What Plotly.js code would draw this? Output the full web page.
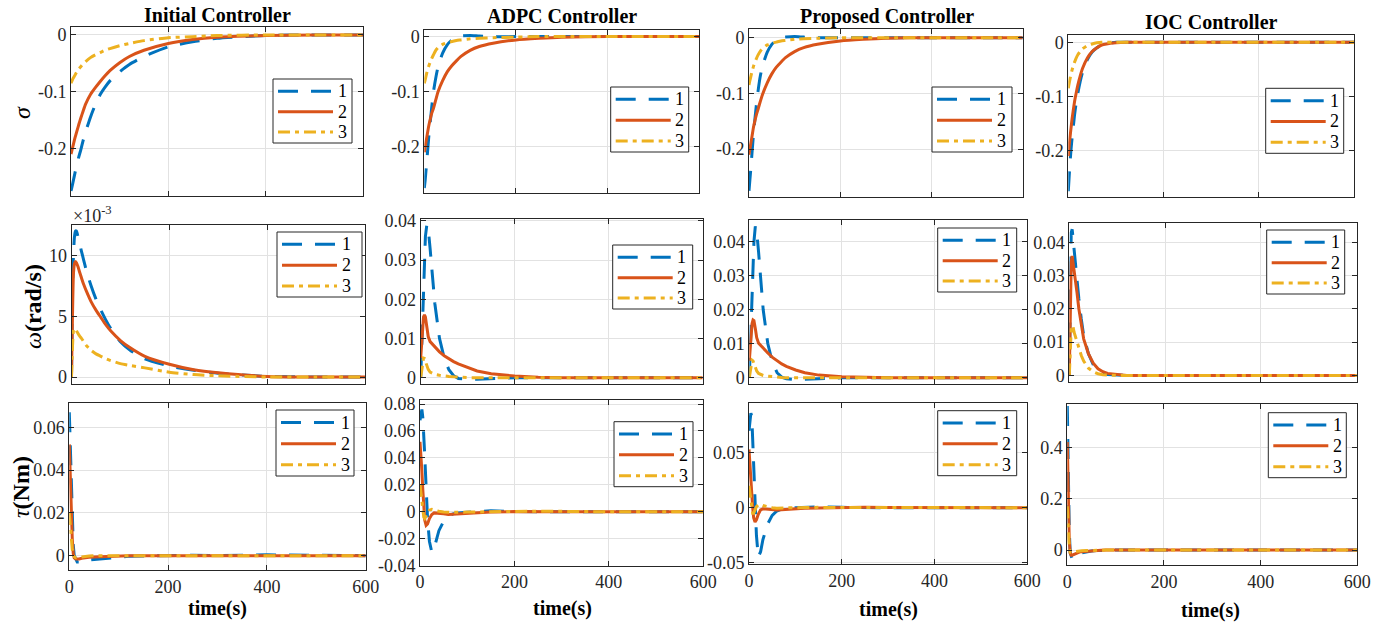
<!DOCTYPE html>
<html><head><meta charset="utf-8">
<script src="https://cdn.plot.ly/plotly-3.0.1.min.js"></script>
<style>html,body{margin:0;padding:0;background:#fff}#chart{width:1388px;height:624px}</style>
</head><body><div id="chart"></div>
<script>
// time samples (s)
const T = [0,2,4,6,8,10,13,16,20,25,30,40,50,60,70,80,100,120,150,200,250,300,400,500,600];

// sigma
const sigInit1 = [-0.275,-0.268,-0.26,-0.252,-0.244,-0.236,-0.226,-0.215,-0.203,-0.186,-0.171,-0.145,-0.123,-0.105,-0.092,-0.081,-0.065,-0.052,-0.038,-0.021,-0.012,-0.006,-0.001,0,0];
const sigInit2 = [-0.21,-0.203,-0.196,-0.189,-0.182,-0.176,-0.167,-0.158,-0.147,-0.134,-0.122,-0.105,-0.093,-0.082,-0.072,-0.063,-0.049,-0.038,-0.027,-0.015,-0.008,-0.004,-0.001,0,0];
const sigInit3 = [-0.085,-0.081,-0.077,-0.074,-0.071,-0.068,-0.064,-0.06,-0.056,-0.051,-0.047,-0.04,-0.035,-0.031,-0.027,-0.024,-0.019,-0.015,-0.01,-0.005,-0.003,-0.001,0,0,0];
const sigADPC1 = [-0.275,-0.26,-0.24,-0.22,-0.2,-0.18,-0.155,-0.13,-0.1,-0.075,-0.055,-0.03,-0.015,-0.006,-0.001,0.001,0.002,0.001,0,0,0,0,0,0,0];
const sigADPC2 = [-0.21,-0.2,-0.19,-0.18,-0.17,-0.161,-0.15,-0.14,-0.13,-0.115,-0.1,-0.08,-0.064,-0.053,-0.044,-0.036,-0.025,-0.018,-0.012,-0.006,-0.003,-0.001,0,0,0];
const sigADPC3 = [-0.085,-0.078,-0.071,-0.064,-0.058,-0.053,-0.046,-0.04,-0.033,-0.025,-0.02,-0.014,-0.011,-0.009,-0.007,-0.006,-0.004,-0.003,-0.002,-0.001,0,0,0,0,0];
const sigProp1 = [-0.275,-0.255,-0.235,-0.213,-0.192,-0.172,-0.146,-0.122,-0.095,-0.068,-0.05,-0.026,-0.012,-0.004,0,0.001,0.002,0.001,0,0,0,0,0,0,0];
const sigProp2 = [-0.21,-0.2,-0.19,-0.18,-0.17,-0.16,-0.149,-0.139,-0.128,-0.114,-0.101,-0.081,-0.065,-0.053,-0.044,-0.036,-0.025,-0.018,-0.012,-0.006,-0.003,-0.001,0,0,0];
const sigProp3 = [-0.085,-0.077,-0.07,-0.063,-0.057,-0.051,-0.044,-0.038,-0.031,-0.024,-0.019,-0.013,-0.01,-0.008,-0.006,-0.005,-0.003,-0.002,-0.001,0,0,0,0,0,0];
const sigIOC1 = [-0.275,-0.245,-0.218,-0.195,-0.176,-0.16,-0.135,-0.115,-0.094,-0.072,-0.055,-0.032,-0.018,-0.01,-0.005,-0.002,0,0,0,0,0,0,0,0,0];
const sigIOC2 = [-0.21,-0.19,-0.172,-0.156,-0.141,-0.128,-0.11,-0.096,-0.079,-0.062,-0.048,-0.029,-0.017,-0.01,-0.005,-0.003,-0.001,0,0,0,0,0,0,0,0];
const sigIOC3 = [-0.085,-0.075,-0.066,-0.058,-0.051,-0.045,-0.037,-0.03,-0.023,-0.017,-0.012,-0.006,-0.003,-0.001,0,0,0,0,0,0,0,0,0,0,0];

// omega (Initial controller in units of 1e-3 rad/s, others in rad/s)
const omgInit1 = [0,7,10,11.5,12,12,11.6,11.1,10.4,9.6,8.8,7.5,6.4,5.5,4.7,4.0,2.9,2.2,1.5,0.9,0.55,0.3,0.05,0,0];
const omgInit2 = [0,5,8.5,9.3,9.5,9.4,9.1,8.7,8.2,7.6,7.1,6.2,5.5,4.9,4.3,3.8,3.0,2.4,1.7,1.05,0.6,0.35,0.05,0,0];
const omgInit3 = [0,2.5,3.8,4.0,3.95,3.8,3.6,3.4,3.2,2.9,2.6,2.2,1.9,1.7,1.5,1.35,1.1,0.95,0.75,0.4,0.2,0.1,0,0,0];
const omgADPC1 = [0,0.008,0.016,0.024,0.031,0.036,0.039,0.038,0.033,0.026,0.019,0.01,0.005,0.002,0.0005,-0.0002,-0.0004,-0.0004,-0.0002,0,0,0,0,0,0];
const omgADPC2 = [0.005,0.009,0.013,0.0155,0.016,0.0155,0.013,0.0105,0.0092,0.0085,0.0078,0.0066,0.0056,0.0048,0.0041,0.0035,0.0025,0.0017,0.001,0.0004,0.0001,0,0,0,0];
const omgADPC3 = [0,0.002,0.004,0.005,0.0049,0.0042,0.003,0.0021,0.0014,0.001,0.0008,0.0006,0.0004,0.0003,0.0002,0.0001,0,0,0,0,0,0,0,0,0];
const omgProp1 = [0,0.008,0.017,0.026,0.034,0.04,0.0445,0.043,0.037,0.028,0.02,0.01,0.0045,0.0015,0.0002,-0.0003,-0.0005,-0.0004,-0.0002,0,0,0,0,0,0];
const omgProp2 = [0.005,0.009,0.013,0.016,0.017,0.0168,0.0145,0.0118,0.0102,0.0094,0.0087,0.0073,0.006,0.005,0.0041,0.0034,0.0023,0.0015,0.0008,0.0003,0.0001,0,0,0,0];
const omgProp3 = [0,0.002,0.0042,0.0052,0.005,0.0043,0.003,0.002,0.0013,0.0009,0.0007,0.0005,0.0003,0.0002,0.0001,0,0,0,0,0,0,0,0,0,0];
const omgIOC1 = [0,0.03,0.043,0.044,0.041,0.037,0.033,0.028,0.023,0.017,0.012,0.0065,0.0032,0.0015,0.0007,0.0003,0.0001,0,0,0,0,0,0,0,0];
const omgIOC2 = [0,0.022,0.034,0.036,0.034,0.031,0.028,0.025,0.02,0.015,0.011,0.0065,0.0037,0.002,0.0011,0.0006,0.0002,0,0,0,0,0,0,0,0];
const omgIOC3 = [0,0.009,0.014,0.015,0.0145,0.013,0.0115,0.0098,0.008,0.006,0.0043,0.0022,0.0011,0.0005,0.0002,0.0001,0,0,0,0,0,0,0,0,0];

// tau (Nm)
const tauInit1 = [0.067,0.05,0.03,0.015,0.005,0,-0.002,-0.003,-0.003,-0.0025,-0.002,-0.002,-0.0018,-0.0015,-0.0012,-0.001,-0.0006,-0.0003,-0.0002,0,0.0002,0,0.0004,0.0002,0];
const tauInit2 = [0.052,0.036,0.02,0.008,0.001,-0.001,-0.0015,-0.0016,-0.0015,-0.0012,-0.001,-0.0008,-0.0006,-0.0005,-0.0004,-0.0003,-0.0001,0,0,0,0.0001,0,0.0003,0.0001,0];
const tauInit3 = [0.02,0.013,0.007,0.003,0.0005,-0.0005,-0.001,-0.001,-0.0008,-0.0006,-0.0004,-0.0002,0,0,0,0.0001,0.0002,0.0001,0,0,0.0002,0,0.0003,0.0001,0];
const tauADPC1 = [0.068,0.074,0.076,0.07,0.058,0.042,0.018,-0.005,-0.022,-0.03,-0.027,-0.014,-0.007,-0.003,-0.0015,-0.0008,-0.0003,0.0003,0.0008,0.0002,0,0,0,0,0];
const tauADPC2 = [0.052,0.043,0.03,0.016,0.004,-0.006,-0.01,-0.009,-0.005,-0.002,-0.0008,-0.001,-0.0015,-0.002,-0.0018,-0.0015,-0.001,-0.0006,-0.0002,0.0002,0.0003,0,0,0,0];
const tauADPC3 = [0.02,0.013,0.005,-0.001,-0.004,-0.005,-0.003,-0.0005,0.0012,0.0018,0.0012,0.0004,-0.0002,-0.0004,-0.0004,-0.0003,-0.0002,0,0.0003,0.0003,0.0005,0.0002,0,0,0];
const tauProp1 = [0.07,0.08,0.086,0.083,0.06,0.035,0,-0.025,-0.045,-0.04,-0.029,-0.015,-0.007,-0.003,-0.0012,-0.0005,0,0.0005,0.0008,0.0003,0,0,0,0,0];
const tauProp2 = [0.053,0.042,0.028,0.013,0,-0.009,-0.013,-0.011,-0.006,-0.002,-0.001,-0.0015,-0.002,-0.002,-0.0018,-0.0015,-0.001,-0.0006,-0.0002,0.0002,0.0003,0.0001,0,0,0];
const tauProp3 = [0.02,0.013,0.005,-0.002,-0.005,-0.005,-0.002,0.001,0.0025,0.003,0.002,0.0008,0,-0.0004,-0.0004,-0.0003,0,0.0002,0.0003,0.0002,0.0003,0.0001,0,0,0];
const tauIOC1 = [0.56,0.3,0.08,-0.01,-0.028,-0.034,-0.033,-0.028,-0.022,-0.016,-0.011,-0.006,-0.004,-0.002,-0.001,0,0,0,0,0,0,0,0,0,0];
const tauIOC2 = [0.42,0.2,0.04,-0.012,-0.02,-0.02,-0.017,-0.014,-0.011,-0.008,-0.006,-0.004,-0.002,-0.001,-0.0005,0,0,0,0,0,0,0,0,0,0];
const tauIOC3 = [0.17,0.07,0.01,-0.008,-0.01,-0.009,-0.007,-0.006,-0.005,-0.004,-0.003,-0.002,-0.001,-0.0005,0,0,0,0,0,0,0,0,0,0,0];

// labels
const seriesNames = ['1','2','3'];
const controllerTitles = ['Initial Controller','ADPC Controller','Proposed Controller','IOC Controller'];
const rowLabels = ['<i>σ</i>','<i>ω</i><b>(rad/s)</b>','<i>τ</i><b>(Nm)</b>'];
const xLabel = '<b>time(s)</b>';
const expLabel = '×10<sup>-3</sup>';
const timeTicks = [0,200,400,600];
const timeTickText = ['0','200','400','600'];
const sigTicks = [-0.2,-0.1,0];
const sigTickText = ['-0.2','-0.1','0'];
const omgInitTicks = [0,5,10];
const omgInitTickText = ['0','5','10'];
const omgTicks = [0,0.01,0.02,0.03,0.04];
const omgTickText = ['0','0.01','0.02','0.03','0.04'];
const tauInitTicks = [0,0.02,0.04,0.06];
const tauInitTickText = ['0','0.02','0.04','0.06'];
const tauADPCTicks = [-0.04,-0.02,0,0.02,0.04,0.06,0.08];
const tauADPCTickText = ['-0.04','-0.02','0','0.02','0.04','0.06','0.08'];
const tauPropTicks = [-0.05,0,0.05];
const tauPropTickText = ['-0.05','0','0.05'];
const tauIOCTicks = [0,0.2,0.4];
const tauIOCTickText = ['0','0.2','0.4'];

const W = 1388, H = 624;
const FONT = 'Liberation Serif';
const colors = ['#0072BD','#D95319','#EDB120'];
const dashes = ['20px,13px','solid','12px,5px,4px,5px'];

// box: [x0,x1,y0,y1] px; leg: [left, top, width, height] px
const panels = [
 {r:0,c:0, box:[71,363,27,196], range:[-0.284,0.014], ys:[sigInit1,sigInit2,sigInit3], tv:sigTicks, tt:sigTickText, leg:[273,79,79,64], smooth:true},
 {r:0,c:1, box:[424.3,699.3,30,193], range:[-0.284,0.012], ys:[sigADPC1,sigADPC2,sigADPC3], tv:sigTicks, tt:sigTickText, leg:[610.7,87,78,65], smooth:true},
 {r:0,c:2, box:[749,1022.7,29.3,196.7], range:[-0.2855,0.015], ys:[sigProp1,sigProp2,sigProp3], tv:sigTicks, tt:sigTickText, leg:[932,87,80,65], smooth:true},
 {r:0,c:3, box:[1068.3,1354.3,35,196.7], range:[-0.285,0.0135], ys:[sigIOC1,sigIOC2,sigIOC3], tv:sigTicks, tt:sigTickText, leg:[1265.7,88.3,78,65], smooth:true},
 {r:1,c:0, box:[71.5,365,225,384.3], range:[-0.6,12.5], ys:[omgInit1,omgInit2,omgInit3], tv:omgInitTicks, tt:omgInitTickText, leg:[277,232,85,65], smooth:true},
 {r:1,c:1, box:[420.7,702.7,219,384.3], range:[-0.0017,0.0405], ys:[omgADPC1,omgADPC2,omgADPC3], tv:omgTicks, tt:omgTickText, leg:[612.7,245,80,64]},
 {r:1,c:2, box:[749.3,1027.3,220,384.3], range:[-0.0019,0.0464], ys:[omgProp1,omgProp2,omgProp3], tv:omgTicks, tt:omgTickText, leg:[937.7,228,79,64]},
 {r:1,c:3, box:[1069.3,1356.7,223.3,381.7], range:[-0.0019,0.0458], ys:[omgIOC1,omgIOC2,omgIOC3], tv:omgTicks, tt:omgTickText, leg:[1266.7,230,78,64]},
 {r:2,c:0, box:[69.3,365.7,402.7,570], range:[-0.0067,0.0715], ys:[tauInit1,tauInit2,tauInit3], tv:tauInitTicks, tt:tauInitTickText, leg:[276,410,78,66]},
 {r:2,c:1, box:[420,703.3,400,565.7], range:[-0.04,0.083], ys:[tauADPC1,tauADPC2,tauADPC3], tv:tauADPCTicks, tt:tauADPCTickText, leg:[614,421.7,79,65]},
 {r:2,c:2, box:[749,1027.3,402.7,564], range:[-0.0512,0.0955], ys:[tauProp1,tauProp2,tauProp3], tv:tauPropTicks, tt:tauPropTickText, leg:[937.7,410.7,79,65]},
 {r:2,c:3, box:[1067.3,1357.3,404,565], range:[-0.058,0.568], ys:[tauIOC1,tauIOC2,tauIOC3], tv:tauIOCTicks, tt:tauIOCTickText, leg:[1268.3,412.7,78,65]}
];

const px = v => v / W, py = v => 1 - v / H;
const traces = [];
const layout = {
  width: W, height: H,
  margin: {l:0, r:0, t:0, b:0},
  paper_bgcolor: '#fff', plot_bgcolor: '#fff',
  font: {family: FONT, size: 18, color: '#262626'},
  showlegend: false,
  annotations: [], shapes: []
};

const axBase = {
  ticks: 'inside', ticklen: 5, tickcolor: '#262626', tickwidth: 1,
  showline: true, linecolor: '#262626', linewidth: 1, mirror: 'ticks',
  showgrid: true, gridcolor: '#e2e2e2', gridwidth: 1, zeroline: false,
  tickfont: {family: FONT, size: 18, color: '#262626'}, fixedrange: true
};

panels.forEach((p, i) => {
  const n = i + 1;
  const xa = n === 1 ? 'x' : 'x' + n, ya = n === 1 ? 'y' : 'y' + n;
  p.ys.forEach((y, k) => {
    traces.push({
      x: T, y: y, type: 'scatter', mode: 'lines', name: seriesNames[k],
      xaxis: xa, yaxis: ya, hoverinfo: 'skip', showlegend: false,
      line: {color: colors[k], width: 3, dash: dashes[k], shape: p.smooth ? 'spline' : 'linear', smoothing: 0.6}
    });
  });
  layout[n === 1 ? 'xaxis' : 'xaxis' + n] = Object.assign({}, axBase, {
    domain: [px(p.box[0]), px(p.box[1])], range: [0, 600], anchor: ya,
    tickvals: timeTicks, ticktext: timeTickText, showticklabels: p.r === 2
  });
  layout[n === 1 ? 'yaxis' : 'yaxis' + n] = Object.assign({}, axBase, {
    domain: [py(p.box[3]), py(p.box[2])], range: p.range, anchor: xa,
    tickvals: p.tv, ticktext: p.tt
  });
  // legend box (MATLAB style)
  const [lx, ly, lw, lh] = p.leg;
  layout.shapes.push({type: 'rect', xref: 'paper', yref: 'paper', x0: px(lx), x1: px(lx + lw),
    y0: py(ly + lh), y1: py(ly), fillcolor: '#fff', line: {color: '#262626', width: 1}, layer: 'above'});
  [0.19, 0.51, 0.83].forEach((f, k) => {
    const yy = py(ly + lh * f);
    layout.shapes.push({type: 'line', xref: 'paper', yref: 'paper', x0: px(lx + 5), x1: px(lx + 60),
      y0: yy, y1: yy, line: {color: colors[k], width: 3, dash: dashes[k]}, layer: 'above'});
    layout.annotations.push({text: seriesNames[k], xref: 'paper', yref: 'paper', x: px(lx + 69), y: yy,
      xanchor: 'center', yanchor: 'middle', showarrow: false, font: {family: FONT, size: 18, color: '#000'}});
  });
});

// column titles & x labels
const titlePos = [[217,15],[562,16],[886.5,16.7],[1211.5,21.7]];
const xLabelPos = [[217.5,608],[562.7,608],[888,609],[1210,610]];
controllerTitles.forEach((t, c) => {
  layout.annotations.push({text: '<b>' + t + '</b>', x: px(titlePos[c][0]), y: py(titlePos[c][1]),
    xref: 'paper', yref: 'paper', xanchor: 'center', yanchor: 'middle', showarrow: false,
    font: {family: FONT, size: 20, color: '#000'}});
  layout.annotations.push({text: xLabel, x: px(xLabelPos[c][0]), y: py(xLabelPos[c][1]),
    xref: 'paper', yref: 'paper', xanchor: 'center', yanchor: 'middle', showarrow: false,
    font: {family: FONT, size: 20, color: '#000'}});
});
const rowLabelPos = [[22,113],[33,307],[21,487]];
rowLabels.forEach((t, r) => {
  layout.annotations.push({text: t, x: px(rowLabelPos[r][0]), y: py(rowLabelPos[r][1]),
    xref: 'paper', yref: 'paper', xanchor: 'center', yanchor: 'middle', showarrow: false, textangle: -90,
    font: {family: FONT, size: 24, color: '#000'}});
});
layout.annotations.push({text: expLabel, x: px(71), y: py(214), xref: 'paper', yref: 'paper',
  xanchor: 'left', yanchor: 'middle', showarrow: false, font: {family: FONT, size: 18, color: '#262626'}});

Plotly.newPlot('chart', traces, layout, {displayModeBar: false, staticPlot: true});
</script></body></html>
